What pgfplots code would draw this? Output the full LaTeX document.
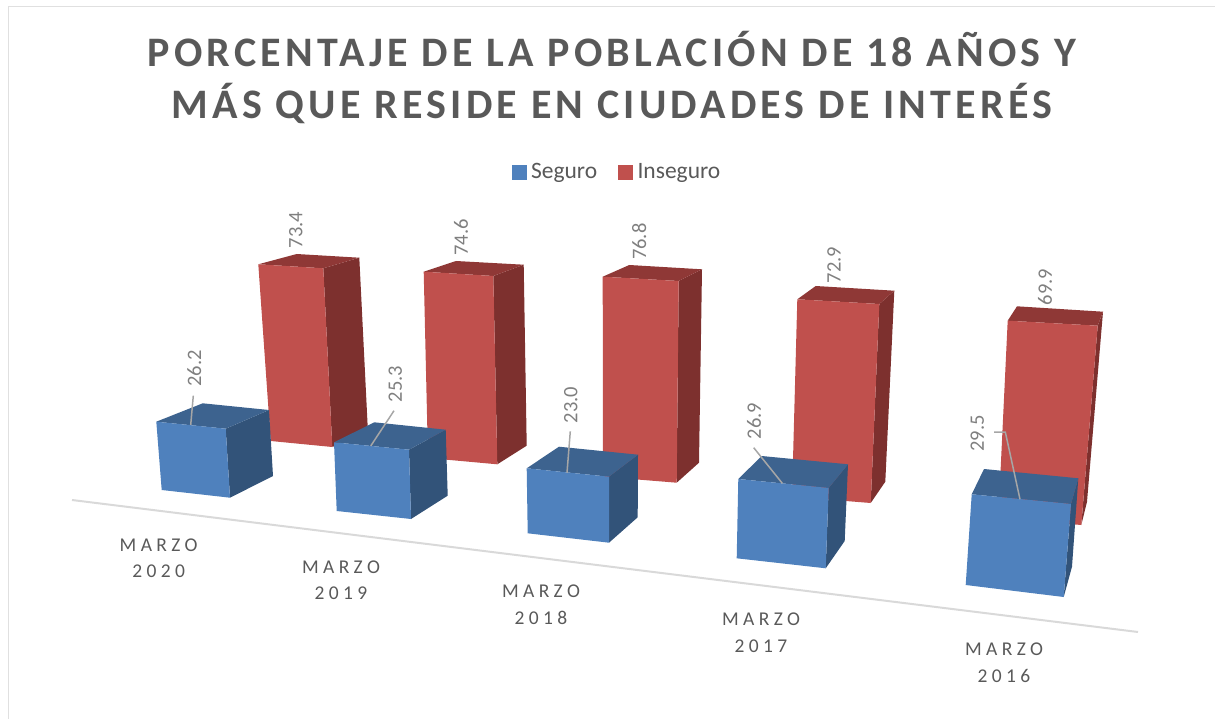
\documentclass[border=0pt]{standalone}
\usepackage{fontspec}
\usepackage{pgfplots}
\pgfplotsset{compat=1.18}
\setmainfont{Carlito}
\newfontfamily\titlefont[LetterSpace=10]{Carlito}
\newfontfamily\catfont[LetterSpace=22.5]{Carlito}
\definecolor{redF}{RGB}{192,80,77}
\definecolor{redS}{RGB}{125,48,46}
\definecolor{redT}{RGB}{143,56,54}
\definecolor{bluF}{RGB}{79,129,189}
\definecolor{bluS}{RGB}{50,83,121}
\definecolor{bluT}{RGB}{61,99,143}
\definecolor{txt}{RGB}{89,89,89}
\definecolor{lbl}{RGB}{127,127,127}
\definecolor{leader}{RGB}{166,166,166}
\definecolor{frame}{RGB}{224,224,224}
\newcommand{\cat}[4]{\node[txt,anchor=base] at (axis cs:#1,#2) {\catfont\fontsize{19.5}{22}\selectfont MARZO};
  \node[txt,anchor=base] at (axis cs:#1,#3) {\catfont\fontsize{19.5}{22}\selectfont #4};}
\newcommand{\val}[3]{\node[lbl,rotate=90] at (axis cs:#1,#2) {\fontsize{20.5}{22}\selectfont #3};}
\begin{document}
\begin{tikzpicture}
\begin{axis}[
  hide axis, scale only axis, clip=false,
  width=1215pt, height=719pt,
  xmin=0, xmax=1215, ymin=0, ymax=719,
  y dir=reverse,
  legend columns=2,
  legend cell align=left,
  legend style={draw=none, fill=none, at={(axis cs:617,172)}, anchor=center,
    font=\fontsize{23.5}{26}\selectfont, text=txt,
    /tikz/column 1/.style={column sep=3pt},
    /tikz/column 2/.style={column sep=19pt},
    /tikz/column 3/.style={column sep=3pt}},
]
\path[use as bounding box] (axis cs:0,0) rectangle (axis cs:1215,719);
\addlegendimage{legend image code/.code={\fill[bluF] (0pt,-7pt) rectangle (14pt,7pt);}}
\addlegendentry{Seguro}
\addlegendimage{legend image code/.code={\fill[redF] (0pt,-7pt) rectangle (14pt,7pt);}}
\addlegendentry{Inseguro}

% chart frame
\addplot[frame, line width=1.8pt, forget plot] coordinates {(8.5,719) (8.5,6.5) (1215,6.5)};

% axis floor line
\addplot[draw={rgb,255:red,217;green,217;blue,217}, line width=2pt, forget plot] coordinates {(72,500) (1138,632)};

% red bars: side, top, front
\addplot[fill=redS, draw=none, forget plot] coordinates {(323.3,268.3) (359.3,257.7) (368,433) (332.3,447)};
\addplot[fill=redT, draw=none, forget plot] coordinates {(258.3,264.3) (296.7,254) (359.3,257.7) (323.3,268.3)};
\addplot[fill=redF, draw=none, forget plot] coordinates {(258.3,264.3) (323.3,268.3) (332.3,447) (270.7,441)};

\addplot[fill=redS, draw=none, forget plot] coordinates {(493.3,276) (523.7,264.7) (526.7,445.7) (497.3,464.3)};
\addplot[fill=redT, draw=none, forget plot] coordinates {(423.7,271.7) (456,261) (523.7,264.7) (493.3,276)};
\addplot[fill=redF, draw=none, forget plot] coordinates {(423.7,271.7) (493.3,276) (497.3,464.3) (428,458)};

\addplot[fill=redS, draw=none, forget plot] coordinates {(678.7,281) (702,269.3) (699,462.7) (676.7,482.7)};
\addplot[fill=redT, draw=none, forget plot] coordinates {(602.7,276.7) (629.3,265) (702,269.3) (678.7,281)};
\addplot[fill=redF, draw=none, forget plot] coordinates {(602.7,276.7) (678.7,281) (676.7,482.7) (603,476.7)};

\addplot[fill=redS, draw=none, forget plot] coordinates {(879.3,304) (894.3,290.7) (885.3,481.7) (870.7,503)};
\addplot[fill=redT, draw=none, forget plot] coordinates {(797.3,299.3) (815.7,286) (894.3,290.7) (879.3,304)};
\addplot[fill=redF, draw=none, forget plot] coordinates {(797.3,299.3) (879.3,304) (870.7,503) (792,496.7)};

\addplot[fill=redS, draw=none, forget plot] coordinates {(1097.7,325.7) (1103,311.7) (1087,501.7) (1081.3,525)};
\addplot[fill=redT, draw=none, forget plot] coordinates {(1007.7,320.7) (1017,306.3) (1103,311.7) (1097.7,325.7)};
\addplot[fill=redF, draw=none, forget plot] coordinates {(1007.7,320.7) (1097.7,325.7) (1081.3,525) (998.3,518)};

% blue bars: side, top, front
\addplot[fill=bluS, draw=none, forget plot] coordinates {(225.7,428.7) (269,410) (273,476) (230,497.7)};
\addplot[fill=bluT, draw=none, forget plot] coordinates {(156.3,421.7) (202.7,403.3) (269,410) (225.7,428.7)};
\addplot[fill=bluF, draw=none, forget plot] coordinates {(156.3,421.7) (225.7,428.7) (230,497.7) (161.7,490)};

\addplot[fill=bluS, draw=none, forget plot] coordinates {(409,449.7) (445.7,429.7) (447.7,495.7) (411,519)};
\addplot[fill=bluT, draw=none, forget plot] coordinates {(334,442.3) (374.3,422.3) (445.7,429.7) (409,449.7)};
\addplot[fill=bluF, draw=none, forget plot] coordinates {(334,442.3) (409,449.7) (411,519) (336.7,511)};

\addplot[fill=bluS, draw=none, forget plot] coordinates {(609,476.7) (638,454.7) (637.7,517.3) (609,542.7)};
\addplot[fill=bluT, draw=none, forget plot] coordinates {(526.7,468.3) (559,446.7) (638,454.7) (609,476.7)};
\addplot[fill=bluF, draw=none, forget plot] coordinates {(526.7,468.3) (609,476.7) (609,542.7) (527.7,533.3)};

\addplot[fill=bluS, draw=none, forget plot] coordinates {(828.7,488) (848,464.3) (844.7,541) (825.7,568.3)};
\addplot[fill=bluT, draw=none, forget plot] coordinates {(738.3,479) (761.7,456) (848,464.3) (828.7,488)};
\addplot[fill=bluF, draw=none, forget plot] coordinates {(738.3,479) (828.7,488) (825.7,568.3) (736.7,558.3)};

\addplot[fill=bluS, draw=none, forget plot] coordinates {(1071,504) (1078.3,478.3) (1072,566.7) (1063.7,597)};
\addplot[fill=bluT, draw=none, forget plot] coordinates {(971.7,494.3) (984,469) (1078.3,478.3) (1071,504)};
\addplot[fill=bluF, draw=none, forget plot] coordinates {(971.7,494.3) (1071,504) (1063.7,597) (965.7,585)};

% leader lines
\addplot[leader, line width=1.5pt, forget plot] coordinates {(193.3,395.7) (190.7,425)};
\addplot[leader, line width=1.5pt, forget plot] coordinates {(394,410.7) (370.7,446)};
\addplot[leader, line width=1.5pt, forget plot] coordinates {(570.3,431.3) (567,472.7)};
\addplot[leader, line width=1.5pt, forget plot] coordinates {(753.7,447.7) (782.3,483.3)};
\addplot[leader, line width=1.5pt, forget plot] coordinates {(994,432) (1005.3,432) (1020,499.3)};

% data labels
\val{194.3}{368.3}{26.2}
\val{295.7}{230}{73.4}
\val{395.3}{384}{25.3}
\val{461}{237.3}{74.6}
\val{570.7}{405}{23.0}
\val{639.3}{241.7}{76.8}
\val{754}{421}{26.9}
\val{834}{265}{72.9}
\val{977.3}{433.3}{29.5}
\val{1045}{287}{69.9}

% category labels
\cat{158.7}{551}{577}{2020}
\cat{341}{573}{599}{2019}
\cat{541}{597}{624}{2018}
\cat{761}{625}{652}{2017}
\cat{1004}{655}{682}{2016}

% title
\node[txt,anchor=base] at (axis cs:612,67) {\titlefont\bfseries\fontsize{42}{50}\selectfont PORCENTAJE DE LA POBLACIÓN DE 18 AÑOS Y};
\node[txt,anchor=base] at (axis cs:612,119) {\titlefont\bfseries\fontsize{42}{50}\selectfont MÁS QUE RESIDE EN CIUDADES DE INTERÉS};
\end{axis}
\end{tikzpicture}
\end{document}
